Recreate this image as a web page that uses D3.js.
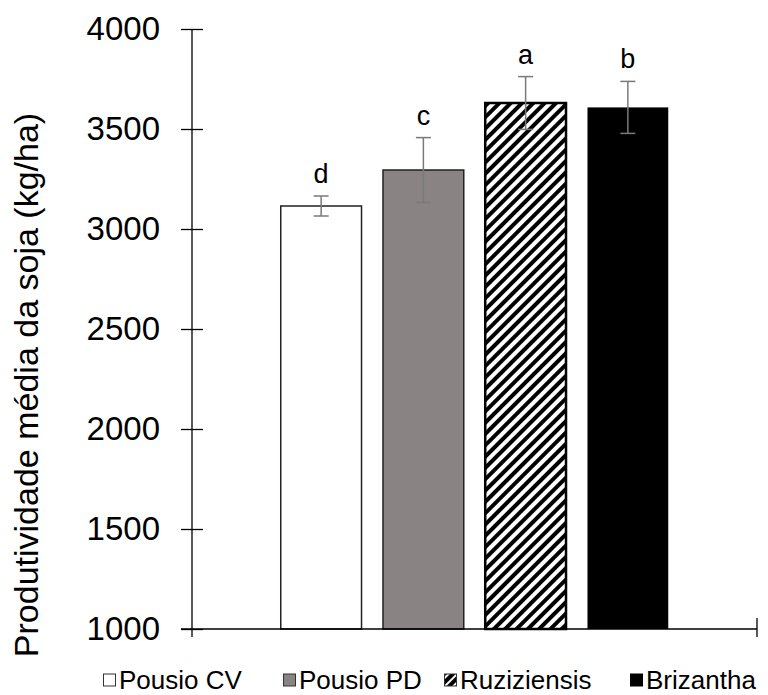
<!DOCTYPE html>
<html>
<head>
<meta charset="utf-8">
<script src="https://cdn.jsdelivr.net/npm/d3@7"></script>
<style>
  html, body { margin: 0; padding: 0; background: #fff; }
  svg { display: block; font-family: "Liberation Sans", Arial, sans-serif; }
</style>
</head>
<body>
<svg id="chart" width="768" height="695"></svg>
<script>
const series = ["Pousio CV", "Pousio PD", "Ruziziensis", "Brizantha"];
const values = [3115, 3295, 3630, 3608];
const errors = [50, 162, 132, 130];
const letters = ["d", "c", "a", "b"];
const yTicks = [1000, 1500, 2000, 2500, 3000, 3500, 4000];
const yTitle = "Produtividade média da soja (kg/ha)";

const fills = ["#ffffff", "#898483", "url(#hatch)", "#000000"];
const strokes = ["#222", "#222", "#000", "none"];
const strokeW = [1.5, 1.5, 2.5, 0];

const svg = d3.select("#chart");
const defs = svg.append("defs");
const pat = defs.append("pattern")
  .attr("id", "hatch").attr("patternUnits", "userSpaceOnUse")
  .attr("width", 8).attr("height", 8)
  .attr("patternTransform", "rotate(45)");
pat.append("rect").attr("width", 8).attr("height", 8).attr("fill", "#fff");
pat.append("rect").attr("width", 4).attr("height", 8).attr("fill", "#000");

const pat2 = defs.append("pattern")
  .attr("id", "hatchSmall").attr("patternUnits", "userSpaceOnUse")
  .attr("width", 6).attr("height", 6)
  .attr("patternTransform", "rotate(45)");
pat2.append("rect").attr("width", 6).attr("height", 6).attr("fill", "#fff");
pat2.append("rect").attr("width", 4).attr("height", 6).attr("fill", "#000");

const x0 = 192, x1 = 757;
const y = d3.scaleLinear().domain([1000, 4000]).range([629, 29]);
const x = d3.scaleBand().domain(series).range([x0, x1])
  .paddingInner(0.21).paddingOuter(0.868);

// bars
svg.selectAll("rect.bar").data(series).enter().append("rect")
  .attr("class", "bar")
  .attr("x", d => x(d))
  .attr("width", x.bandwidth())
  .attr("y", (d, i) => y(values[i]))
  .attr("height", (d, i) => y(1000) - y(values[i]))
  .attr("fill", (d, i) => fills[i])
  .attr("stroke", (d, i) => strokes[i])
  .attr("stroke-width", (d, i) => strokeW[i]);

// error bars
const eg = svg.append("g").attr("stroke", "#7a7a7a").attr("stroke-width", 1.5);
series.forEach((s, i) => {
  const cx = x(s) + x.bandwidth() / 2;
  const yt = y(values[i] + errors[i]), yb = y(values[i] - errors[i]);
  eg.append("line").attr("x1", cx).attr("x2", cx).attr("y1", yt).attr("y2", yb);
  eg.append("line").attr("x1", cx - 7.5).attr("x2", cx + 7.5).attr("y1", yt).attr("y2", yt);
  eg.append("line").attr("x1", cx - 7.5).attr("x2", cx + 7.5).attr("y1", yb).attr("y2", yb);
});

// letters
svg.selectAll("text.lett").data(series).enter().append("text")
  .attr("class", "lett")
  .attr("x", d => x(d) + x.bandwidth() / 2)
  .attr("y", (d, i) => y(values[i] + errors[i]) - 13)
  .attr("text-anchor", "middle")
  .attr("font-size", 27)
  .attr("fill", "#000")
  .text((d, i) => letters[i]);

// y axis
const yAxis = d3.axisLeft(y).tickValues(yTicks).tickSize(11).tickPadding(21)
  .tickFormat(d3.format("d"));
const ga = svg.append("g").attr("transform", `translate(${x0},0)`).call(yAxis);
ga.select(".domain").remove();
ga.selectAll(".tick line").attr("x1", -11).attr("x2", 11)
  .attr("stroke", "#000").attr("stroke-width", 1.3);
ga.selectAll(".tick text").attr("font-size", 33).attr("fill", "#000")
  .attr("font-family", "Liberation Sans, Arial, sans-serif");
svg.append("line").attr("x1", x0).attr("x2", x0).attr("y1", y(4000)).attr("y2", y(1000) + 8)
  .attr("stroke", "#000").attr("stroke-width", 1.3);

// x axis
svg.append("line").attr("x1", x0 - 11).attr("x2", x1).attr("y1", y(1000)).attr("y2", y(1000))
  .attr("stroke", "#000").attr("stroke-width", 1.3);
svg.append("line").attr("x1", x1).attr("x2", x1).attr("y1", y(1000) - 11).attr("y2", y(1000) + 8)
  .attr("stroke", "#000").attr("stroke-width", 1.3);

// y title
svg.append("text")
  .attr("transform", "translate(38,385) rotate(-90)")
  .attr("text-anchor", "middle")
  .attr("font-size", 34)
  .attr("fill", "#000")
  .text(yTitle);

// legend
const legX = [103, 283, 444, 630];
const lg = svg.append("g");
series.forEach((s, i) => {
  const g = lg.append("g").attr("transform", `translate(${legX[i]},680)`);
  g.append("rect").attr("x", 0.5).attr("y", -6).attr("width", 12).attr("height", 12)
    .attr("fill", i === 2 ? "url(#hatchSmall)" : fills[i])
    .attr("stroke", i === 3 ? "#000" : "#333").attr("stroke-width", 1);
  g.append("text").attr("x", 16).attr("y", 9).attr("font-size", 26)
    .attr("fill", "#000").text(s);
});
</script>
</body>
</html>
